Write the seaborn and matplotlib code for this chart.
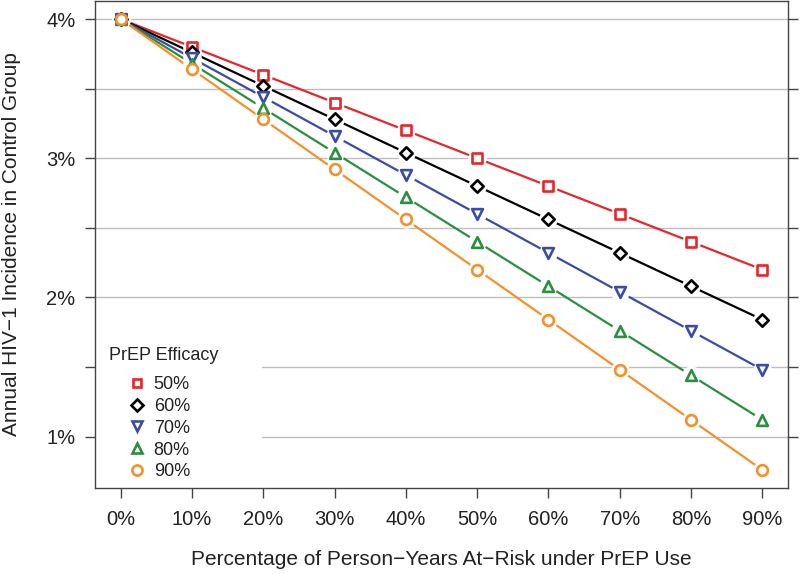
import matplotlib
matplotlib.use("Agg")
import matplotlib.pyplot as plt
from matplotlib.lines import Line2D
from matplotlib.patches import Rectangle
import seaborn as sns
import pandas as pd

# ---- data ----
coverage = [0, 10, 20, 30, 40, 50, 60, 70, 80, 90]          # % person-years under PrEP
x_labels = ["0%", "10%", "20%", "30%", "40%", "50%", "60%", "70%", "80%", "90%"]
eff_50 = [4.00, 3.80, 3.60, 3.40, 3.20, 3.00, 2.80, 2.60, 2.40, 2.20]
eff_60 = [4.00, 3.76, 3.52, 3.28, 3.04, 2.80, 2.56, 2.32, 2.08, 1.84]
eff_70 = [4.00, 3.72, 3.44, 3.16, 2.88, 2.60, 2.32, 2.04, 1.76, 1.48]
eff_80 = [4.00, 3.68, 3.36, 3.04, 2.72, 2.40, 2.08, 1.76, 1.44, 1.12]
eff_90 = [4.00, 3.64, 3.28, 2.92, 2.56, 2.20, 1.84, 1.48, 1.12, 0.76]
series_names = ["50%", "60%", "70%", "80%", "90%"]
legend_title = "PrEP Efficacy"
y_ticks = [1.0, 1.5, 2.0, 2.5, 3.0, 3.5, 4.0]
y_labels = ["1%", "", "2%", "", "3%", "", "4%"]

series_values = [eff_50, eff_60, eff_70, eff_80, eff_90]
colors = ["#E8262A", "#000000", "#3A4DA6", "#2A8F3E", "#F5902A"]
markers = ["s", "D", "v", "^", "o"]
msizes = [46, 40, 60, 60, 60]

rows = []
for name, vals in zip(series_names, series_values):
    for xv, yv in zip(coverage, vals):
        rows.append({"coverage": xv, "incidence": yv, "efficacy": name})
df = pd.DataFrame(rows)

sns.set_theme(style="white")
plt.rcParams["font.family"] = ["Liberation Sans", "DejaVu Sans"]
text_col = "#222222"

fig = plt.figure(figsize=(8.0, 5.74), dpi=100)
ax = fig.add_axes([95 / 800, 1 - 488 / 574, (788 - 95) / 800, 487 / 574])

# grid lines
for yv in y_ticks:
    ax.axhline(yv, color="#BDBDBD", lw=1.0, zorder=0)

# white legend background (hides grid lines under the legend)
ax.add_patch(Rectangle((0, 0), (262 - 95) / 693, (488 - 312) / 487,
                       transform=ax.transAxes, facecolor="white",
                       edgecolor="none", zorder=1))

# lines
sns.lineplot(data=df, x="coverage", y="incidence", hue="efficacy",
             palette=dict(zip(series_names, colors)), lw=1.6,
             legend=False, ax=ax, zorder=2)

# white gaps around points (R type="b")
sns.scatterplot(data=df, x="coverage", y="incidence", color="white",
                s=180, linewidth=0, legend=False, ax=ax, zorder=3)

# open markers
for name, c, m, s in zip(series_names, colors, markers, msizes):
    sub = df[df["efficacy"] == name]
    sns.scatterplot(data=sub, x="coverage", y="incidence", marker=m,
                    s=s, facecolor="white", edgecolor=c, linewidth=1.9,
                    legend=False, ax=ax, zorder=4)

ax.set_xlim(-3.6, 93.6)
ax.set_ylim(0.63, 4.13)
ax.set_xticks(coverage)
ax.set_xticklabels(x_labels)
ax.set_yticks(y_ticks)
ax.set_yticklabels(y_labels)
ax.tick_params(axis="both", direction="out", length=7, width=1.0,
               color="#444444", labelsize=14.5, labelcolor=text_col, pad=8)
ax.tick_params(axis="y", right=True, labelright=False, left=True, pad=7)
ax.tick_params(axis="x", bottom=True, pad=9)
for sp in ax.spines.values():
    sp.set_color("#444444")
    sp.set_linewidth(1.0)

ax.set_xlabel("Percentage of Person\u2212Years At\u2212Risk under PrEP Use",
              fontsize=15, color=text_col, labelpad=15)
ax.set_ylabel("Annual HIV\u22121 Incidence in Control Group",
              fontsize=15, color=text_col, labelpad=18)

# legend (title as a separate text, entries indented as in the reference)
ax.text((109 - 95) / 693, (488 - 355) / 487, legend_title, transform=ax.transAxes,
        ha="left", va="center", fontsize=13, color=text_col, zorder=6)
handles = [Line2D([], [], linestyle="none", marker=m,
                  markersize=6.3 if m in ("s", "D") else 7.3,
                  markerfacecolor="white", markeredgecolor=c, markeredgewidth=1.9)
           for c, m in zip(colors, markers)]
leg = ax.legend(handles, series_names, loc="upper left",
                bbox_to_anchor=((128 - 95) / 693, (488 - 376) / 487),
                frameon=False, fontsize=13, handlelength=1.0,
                handletextpad=0.42, labelspacing=0.27, borderpad=0.0,
                borderaxespad=0.0)
leg.set_zorder(6)
for t in leg.get_texts():
    t.set_color(text_col)

fig.savefig("out.png", dpi=100)
